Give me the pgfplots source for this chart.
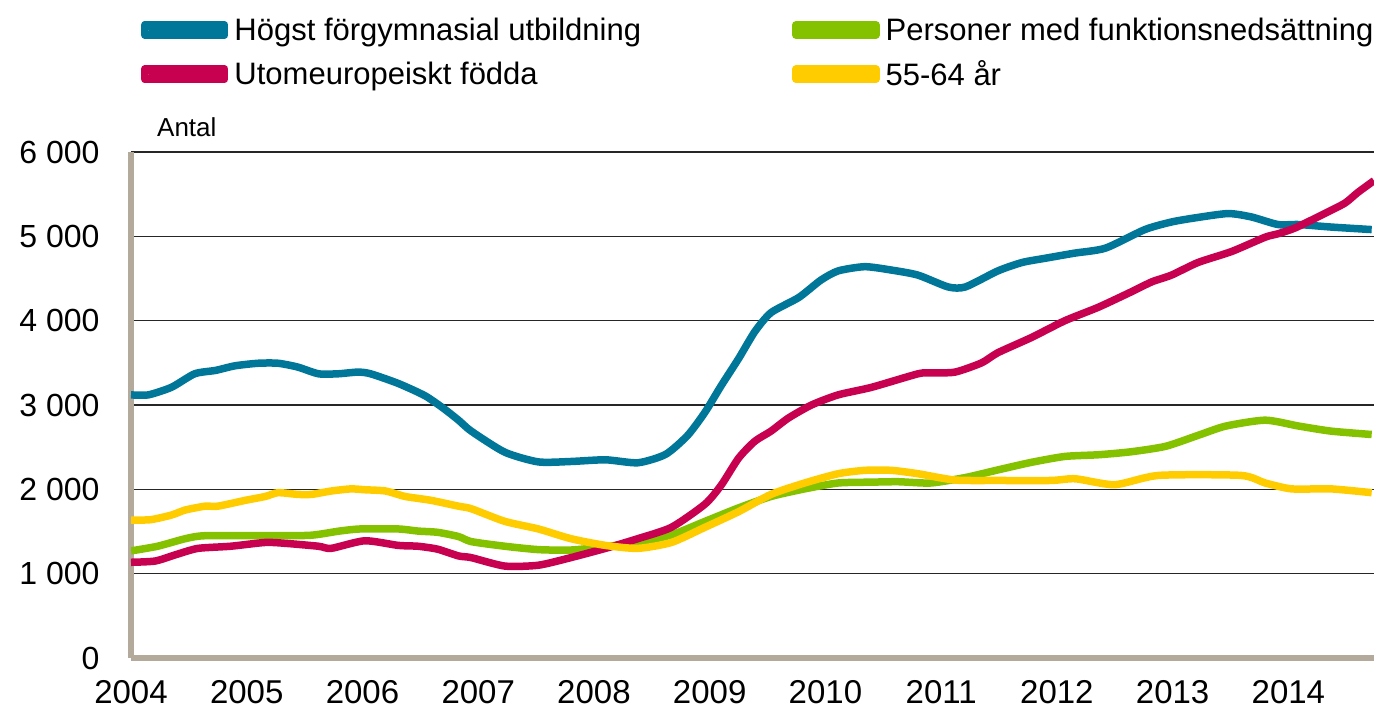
\documentclass[border=0pt]{standalone}
\usepackage{fontspec}
\setmainfont{Liberation Sans}
\usepackage{pgfplots}
\pgfplotsset{compat=1.18}
\definecolor{cblue}{RGB}{0,118,152}
\definecolor{cred}{RGB}{200,0,80}
\definecolor{cgreen}{RGB}{132,194,0}
\definecolor{cyellow}{RGB}{255,204,0}
\definecolor{ctan}{RGB}{180,170,155}

\begin{document}
\begin{tikzpicture}
\begin{axis}[
  scale only axis, width=1243bp, height=506bp,
  xmin=2004, xmax=2014.74, ymin=0, ymax=6000,
  axis x line*=bottom, axis y line*=left,
  axis line style={draw=ctan, line width=6bp},
  xtick={2004,2005,2006,2007,2008,2009,2010,2011,2012,2013,2014},
  xticklabels={2004,2005,2006,2007,2008,2009,2010,2011,2012,2013,2014},
  ytick={0,1000,2000,3000,4000,5000,6000},
  yticklabels={0,1 000,2 000,3 000,4 000,5 000,6 000},
  major tick length=0pt,
  ymajorgrids, grid style={black!85, line width=1.5bp},
  xticklabel style={font=\fontsize{33bp}{38bp}\selectfont, yshift=-19bp},
  yticklabel style={font=\fontsize{32bp}{36bp}\selectfont, xshift=-28bp},
  legend columns=2,
  legend style={draw=none, fill=none, inner sep=0pt, outer sep=0pt,
    at={(0,1)}, anchor=north west, xshift=10bp, yshift=134bp,
    font=\fontsize{31bp}{36bp}\selectfont,
    row sep=19bp,
    nodes={inner sep=0pt, outer sep=0pt},
    /tikz/every odd column/.append style={column sep=6bp},
    /tikz/every even column/.append style={column sep=151bp}},
  legend cell align=left,
  legend image code/.code={
    \path (0bp,-5bp) rectangle (80bp,5bp);
    \draw[line width=8bp, line cap=round] (4.5bp,0.33em) -- (75.5bp,0.33em);},
  every axis plot/.append style={line width=7.5bp, line join=round, smooth, tension=0.4},
]
\addplot[cblue] coordinates {
(2004.00,3120) (2004.15,3120) (2004.35,3210) (2004.55,3370) (2004.73,3410)
(2004.90,3465) (2005.10,3495) (2005.27,3495) (2005.44,3450) (2005.62,3370)
(2005.79,3370) (2005.96,3390) (2006.07,3370) (2006.31,3255) (2006.54,3110)
(2006.70,2960) (2006.83,2820) (2006.94,2690) (2007.23,2440) (2007.52,2325)
(2007.80,2330) (2008.10,2350) (2008.38,2315) (2008.62,2415) (2008.81,2640)
(2008.96,2915) (2009.10,3230) (2009.25,3550) (2009.39,3870) (2009.53,4095)
(2009.77,4275) (2009.96,4480) (2010.11,4590) (2010.34,4640) (2010.57,4600)
(2010.80,4540) (2011.06,4400) (2011.21,4400) (2011.49,4590) (2011.70,4690)
(2011.90,4740) (2012.15,4800) (2012.42,4860) (2012.76,5080) (2012.99,5170)
(2013.20,5220) (2013.48,5270) (2013.68,5230) (2013.91,5140) (2014.09,5140)
(2014.37,5110) (2014.72,5080)
};
\addlegendentry{Högst förgymnasial utbildning}
\addplot[cgreen] coordinates {
(2004.00,1270) (2004.23,1325) (2004.47,1415) (2004.64,1450) (2005.16,1450)
(2005.55,1455) (2005.80,1505) (2005.98,1530) (2006.31,1530) (2006.48,1505)
(2006.65,1490) (2006.83,1440) (2006.94,1380) (2007.23,1325) (2007.52,1285)
(2007.80,1280) (2008.10,1320) (2008.38,1370) (2008.67,1460) (2008.96,1620)
(2009.25,1780) (2009.53,1915) (2009.82,2005) (2010.11,2075) (2010.40,2085)
(2010.63,2090) (2010.91,2075) (2011.21,2140) (2011.49,2230) (2011.78,2320)
(2012.07,2390) (2012.36,2410) (2012.64,2445) (2012.94,2510) (2013.22,2640)
(2013.46,2750) (2013.80,2820) (2014.09,2750) (2014.37,2690) (2014.72,2650)
};
\addlegendentry{Personer med funktionsnedsättning}
\addplot[cred] coordinates {
(2004.00,1135) (2004.21,1150) (2004.41,1235) (2004.58,1300) (2004.86,1325)
(2005.16,1370) (2005.33,1360) (2005.62,1325) (2005.73,1300) (2006.02,1390)
(2006.31,1335) (2006.48,1325) (2006.65,1290) (2006.83,1210) (2006.94,1190)
(2007.23,1090) (2007.52,1100) (2007.80,1190) (2008.10,1300) (2008.38,1415)
(2008.67,1550) (2008.96,1825) (2009.10,2050) (2009.25,2370) (2009.39,2570)
(2009.53,2690) (2009.68,2845) (2009.88,3000) (2010.11,3120) (2010.40,3210)
(2010.80,3370) (2010.91,3380) (2011.12,3390) (2011.35,3500) (2011.49,3620)
(2011.78,3800) (2012.07,4000) (2012.36,4160) (2012.64,4340) (2012.82,4460)
(2012.99,4540) (2013.22,4690) (2013.51,4820) (2013.80,4990) (2013.91,5030)
(2014.06,5100) (2014.32,5275) (2014.49,5395) (2014.60,5520) (2014.74,5660)
};
\addlegendentry{Utomeuropeiskt födda}
\addplot[cyellow] coordinates {
(2004.00,1635) (2004.17,1640) (2004.35,1695) (2004.47,1755) (2004.64,1800)
(2004.75,1800) (2004.99,1870) (2005.16,1915) (2005.27,1960) (2005.44,1940)
(2005.56,1940) (2005.73,1980) (2005.90,2005) (2006.02,1995) (2006.20,1980)
(2006.37,1915) (2006.59,1870) (2006.83,1800) (2006.94,1770) (2007.23,1620)
(2007.52,1530) (2007.80,1415) (2008.10,1335) (2008.38,1300) (2008.67,1370)
(2008.96,1550) (2009.25,1735) (2009.53,1940) (2009.82,2075) (2010.11,2185)
(2010.34,2225) (2010.57,2225) (2010.80,2185) (2011.12,2110) (2011.49,2105)
(2011.95,2105) (2012.16,2125) (2012.50,2055) (2012.88,2165) (2013.59,2165)
(2013.80,2075) (2014.03,2005) (2014.37,2005) (2014.72,1960)
};
\addlegendentry{55-64 år}
\end{axis}
\node[anchor=base west, font=\fontsize{26bp}{30bp}\selectfont, inner sep=0pt]
  at ([xshift=26bp,yshift=15bp]current axis.north west) {Antal};
\pgfresetboundingbox
\path ([xshift=-131bp,yshift=-54bp]current axis.south west) rectangle ([yshift=152bp]current axis.north east);
\end{tikzpicture}
\end{document}
